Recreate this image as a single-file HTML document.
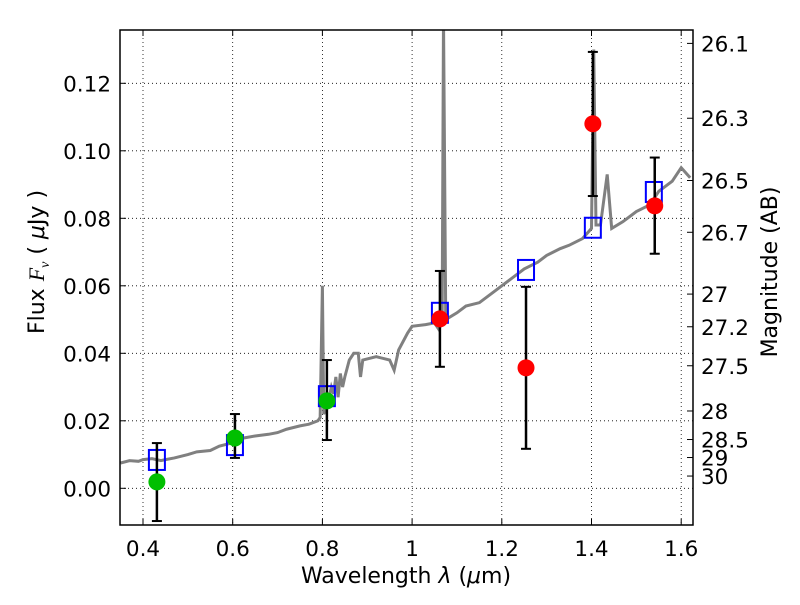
<!DOCTYPE html>
<html><head><meta charset="utf-8"><style>
body{margin:0;background:#fff}
svg{font-family:"DejaVu Sans","Liberation Sans",sans-serif}
</style></head><body>
<svg id="c" width="800" height="600"></svg>
<script>
const specWave=[0.35,0.37,0.39,0.40,0.42,0.44,0.45,0.47,0.5,0.52,0.55,0.57,0.6,0.62,0.65,0.68,0.7,0.72,0.75,0.77,0.79,0.795,0.80,0.803,0.81,0.82,0.825,0.83,0.835,0.84,0.845,0.85,0.86,0.87,0.88,0.885,0.89,0.92,0.95,0.96,0.97,0.99,1.0,1.03,1.05,1.06,1.067,1.07,1.075,1.1,1.12,1.15,1.18,1.2,1.22,1.25,1.28,1.3,1.33,1.35,1.38,1.4,1.405,1.41,1.42,1.435,1.445,1.47,1.5,1.53,1.55,1.58,1.6,1.62];
const specFlux=[0.0075,0.0082,0.0080,0.0085,0.0088,0.0082,0.0085,0.0090,0.0100,0.0108,0.0112,0.0125,0.0135,0.0148,0.0155,0.0160,0.0165,0.0175,0.0185,0.0190,0.0200,0.0210,0.0600,0.0220,0.0240,0.0300,0.0280,0.0330,0.0270,0.0340,0.0300,0.0330,0.0380,0.0400,0.0400,0.0330,0.0380,0.0390,0.0380,0.0350,0.0410,0.0460,0.0480,0.0485,0.0490,0.0470,0.0500,0.1400,0.0500,0.0520,0.0540,0.0550,0.0580,0.0600,0.0620,0.0650,0.0670,0.0690,0.0710,0.0720,0.0740,0.0770,0.1300,0.0780,0.0780,0.0930,0.0770,0.0790,0.0820,0.0840,0.0880,0.0910,0.0950,0.0920];
const modelWave=[0.431,0.605,0.81,1.062,1.254,1.403,1.539];
const modelFlux=[0.0084,0.0128,0.0273,0.052,0.0647,0.0772,0.0878];
const greenWave=[0.431,0.605,0.81];
const greenFlux=[0.0019,0.0149,0.0259];
const greenHi=[0.0134,0.0220,0.0380];
const greenLo=[-0.0097,0.0090,0.0143];
const redWave=[1.062,1.254,1.403,1.541];
const redFlux=[0.0502,0.0357,0.108,0.0837];
const redHi=[0.0644,0.0597,0.1293,0.098];
const redLo=[0.0360,0.0117,0.0866,0.0695];
const xTicks=[0.4,0.6,0.8,1.0,1.2,1.4,1.6];
const xTickLabels=["0.4","0.6","0.8","1","1.2","1.4","1.6"];
const yTicks=[0,0.02,0.04,0.06,0.08,0.10,0.12];
const yTickLabels=["0.00","0.02","0.04","0.06","0.08","0.10","0.12"];
const magTicks=[26.1,26.3,26.5,26.7,27,27.2,27.5,28,28.5,29,30];

const L=120,R=693,T=30,B=525;
const X=v=>143+(v-0.4)*448.5;
const Y=v=>488.3-v*3375;
const svg=document.getElementById('c');
const NS='http://www.w3.org/2000/svg';
function mk(tag,attrs,parent){const e=document.createElementNS(NS,tag);for(const k in attrs)e.setAttribute(k,attrs[k]);(parent||svg).appendChild(e);return e;}
const defs=mk('defs',{});const cp=mk('clipPath',{id:'pc'},defs);mk('rect',{x:L,y:T,width:R-L,height:B-T},cp);

xTicks.forEach((v,i)=>{
  const g=mk('line',{x1:X(v),x2:X(v),y1:T,y2:B,stroke:'#000','stroke-width':0.8,'stroke-dasharray':'1,3'});
  
  mk('line',{x1:X(v),x2:X(v),y1:B,y2:B-6,stroke:'#000'});mk('line',{x1:X(v),x2:X(v),y1:T,y2:T+6,stroke:'#000'});
  const t=mk('text',{x:X(v),y:B+31,'text-anchor':'middle','font-size':21.5});t.textContent=xTickLabels[i];
  
});
yTicks.forEach((v,i)=>{
  const g=mk('line',{x1:L,x2:R,y1:Y(v),y2:Y(v),stroke:'#000','stroke-width':0.8,'stroke-dasharray':'1,3'});
  
  mk('line',{x1:L,x2:L+6,y1:Y(v),y2:Y(v),stroke:'#000'});
  const t=mk('text',{x:L-9,y:Y(v)+8,'text-anchor':'end','font-size':21.5});t.textContent=yTickLabels[i];
  
});
magTicks.forEach(m=>{
  const f=Math.pow(10,(23.9-m)/2.5);const y=Y(f);
  mk('line',{x1:R,x2:R-6,y1:y,y2:y,stroke:'#000'});
  const t=mk('text',{x:R+8,y:y+8,'font-size':21.5});t.textContent=String(m);
  
});

const plot=mk('g',{'clip-path':'url(#pc)'});

const sp=mk('polyline',{points:specWave.map((w,i)=>X(w)+','+Y(specFlux[i])).join(' '),fill:'none',stroke:'#808080','stroke-width':3},plot);

modelWave.forEach((w,i)=>{
  const r=mk('rect',{x:X(w)-8,y:Y(modelFlux[i])-10,width:16,height:20,fill:'none',stroke:'#0000ff','stroke-width':2},plot);
  
});
function pts(ws,fs,hi,lo,col,name){
  ws.forEach((w,i)=>{
    const x=X(w);
    const e=mk('g',{},plot);
    
    mk('line',{x1:x,x2:x,y1:Y(hi[i]),y2:Y(lo[i]),stroke:'#000','stroke-width':2.5},e);
    mk('line',{x1:x-5,x2:x+5,y1:Y(hi[i]),y2:Y(hi[i]),stroke:'#000','stroke-width':2},e);
    mk('line',{x1:x-5,x2:x+5,y1:Y(lo[i]),y2:Y(lo[i]),stroke:'#000','stroke-width':2},e);
    const c=mk('circle',{cx:x,cy:Y(fs[i]),r:8.5,fill:col},plot);
    
  });
}
pts(greenWave,greenFlux,greenHi,greenLo,'#00bf00','green-observation');
pts(redWave,redFlux,redHi,redLo,'#ff0000','red-observation');

const fr=mk('rect',{x:L,y:T,width:R-L,height:B-T,fill:'none',stroke:'#000','stroke-width':1.5});

let t=mk('text',{x:406,y:583,'text-anchor':'middle','font-size':22,'xml:space':'preserve'});t.innerHTML='Wavelength  <tspan font-style="italic">λ</tspan> (<tspan font-style="italic">μ</tspan>m)';

t=mk('text',{x:0,y:0,'text-anchor':'middle','font-size':22,transform:'translate(44,262) rotate(-90)'});t.setAttribute('xml:space','preserve');t.innerHTML='Flux  <tspan font-style="italic" font-family="Liberation Serif">F<tspan font-size="14" dy="5">ν</tspan></tspan><tspan dy="-5">  (  </tspan><tspan font-style="italic">μ</tspan>Jy )';

t=mk('text',{x:0,y:0,'text-anchor':'middle','font-size':22,transform:'translate(777,272) rotate(-90)'});t.textContent='Magnitude (AB)';

</script>
</body></html>
